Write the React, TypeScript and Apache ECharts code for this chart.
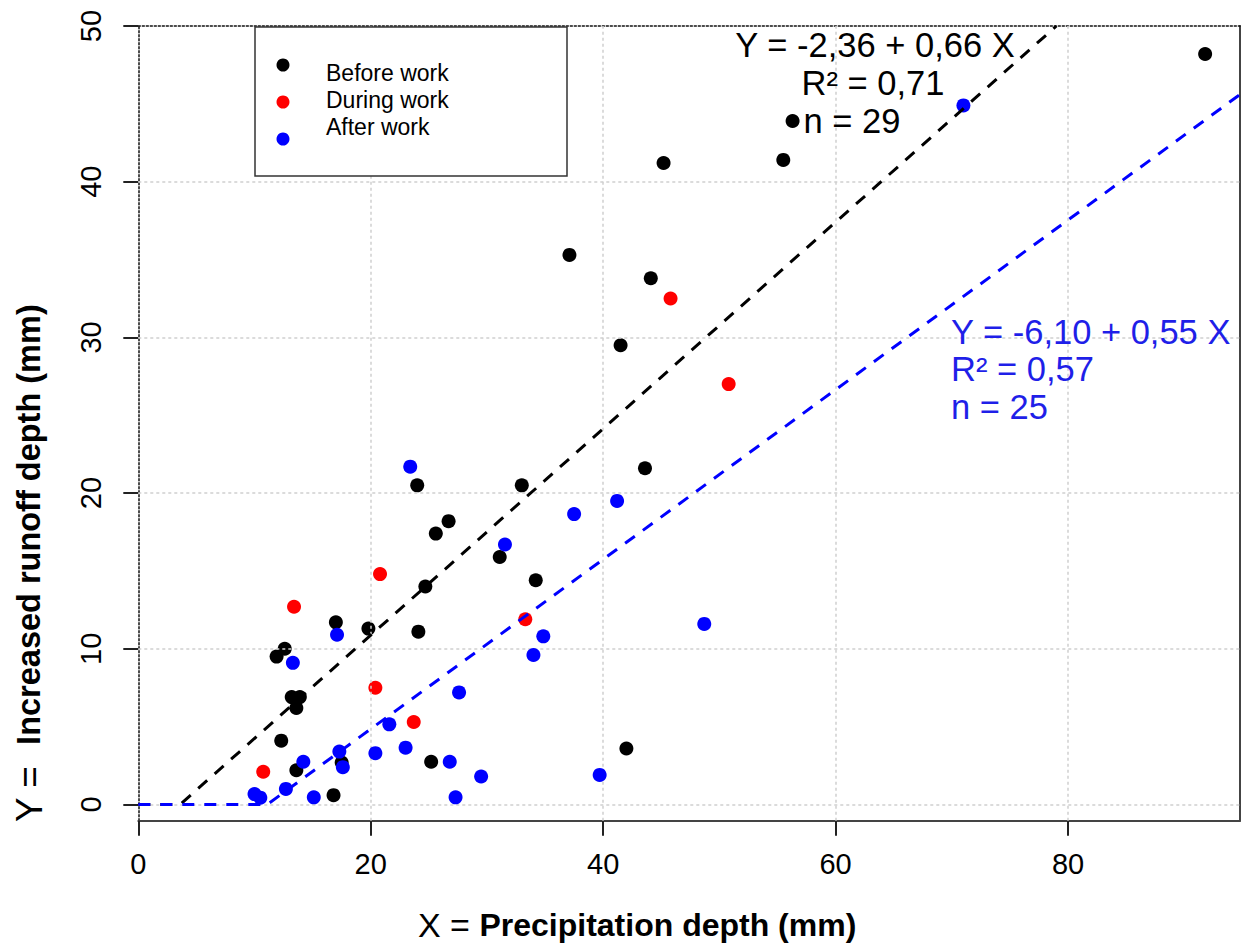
import React, { useEffect, useRef } from "react";
import * as echarts from "echarts";

// ---- data ----
const xTicks = [0, 20, 40, 60, 80];
const yTicks = [0, 10, 20, 30, 40, 50];
const xGridLines = [20, 40, 60, 80];
const yGridLines = [0, 10, 20, 30, 40];

const beforeWork: number[][] = [
  [91.8, 48.2], [56.3, 43.9], [55.5, 41.4], [45.2, 41.2], [37.1, 35.3],
  [44.1, 33.8], [41.5, 29.5], [43.6, 21.6], [33.0, 20.5], [24.0, 20.5],
  [26.7, 18.2], [25.6, 17.4], [31.1, 15.9], [34.2, 14.4], [24.7, 14.0],
  [17.0, 11.7], [19.8, 11.3], [24.1, 11.1], [12.6, 10.0], [11.9, 9.5],
  [13.2, 6.9], [13.9, 6.9], [13.6, 6.2], [12.3, 4.1], [13.6, 2.2],
  [16.8, 0.6], [17.5, 2.7], [25.2, 2.75], [42.0, 3.6],
];

const duringWork: number[][] = [
  [45.8, 32.5], [50.8, 27.0], [20.8, 14.8], [13.4, 12.7],
  [33.3, 11.9], [20.4, 7.5], [23.7, 5.3], [10.75, 2.1],
];

const afterWork: number[][] = [
  [71.0, 44.9], [23.4, 21.7], [37.5, 18.65], [41.2, 19.5], [31.55, 16.7],
  [34.85, 10.8], [48.7, 11.6], [34.0, 9.6], [13.3, 9.1], [17.1, 10.9],
  [27.6, 7.2], [21.6, 5.15], [17.3, 3.4], [17.6, 2.4], [20.4, 3.3],
  [23.0, 3.65], [14.2, 2.75], [26.8, 2.75], [29.5, 1.8], [12.7, 1.0],
  [10.0, 0.67], [10.5, 0.44], [15.1, 0.46], [27.3, 0.46], [39.7, 1.9],
];

// fitted lines (clipped at zero), endpoints
const fitBefore: number[][] = [[0, 0], [3.6, 0], [79.0, 50]];
const fitAfter: number[][] = [[0, 0], [11.1, 0], [94.8, 45.6]];

const eqBefore = ["Y = -2,36 + 0,66 X", "R² = 0,71", "n = 29"];
const eqAfter = ["Y = -6,10 + 0,55 X", "R² = 0,57", "n = 25"];
const legendNames = ["Before work", "During work", "After work"];
const colors = ["#000000", "#ff0000", "#0000ff"];

const FONT = "'Liberation Sans', Arial, sans-serif";
const X_MAX = 94.8;
const Y_MIN = -1.04;
const Y_MAX = 50;

export default function App() {
  const ref = useRef<HTMLDivElement>(null);

  useEffect(() => {
    if (!ref.current) return;
    const chart = echarts.init(ref.current, null, { renderer: "svg" });

    const gridLineStyle = { color: "#cfcfcf", width: 1.5, type: [3, 3] as any };

    const legendGraphics: any[] = [
      {
        type: "rect",
        z: 100,
        shape: { x: 255, y: 27, width: 312, height: 149 },
        style: { fill: "#ffffff", stroke: "#333333", lineWidth: 1.5 },
      },
    ];
    const symY = [65, 102, 139];
    const txtY = [73, 100, 127];
    legendNames.forEach((n, i) => {
      legendGraphics.push({
        type: "circle",
        z: 101,
        shape: { cx: 283, cy: symY[i], r: 6.5 },
        style: { fill: colors[i] },
      });
      legendGraphics.push({
        type: "text",
        z: 101,
        x: 326,
        y: txtY[i],
        style: {
          text: n,
          fill: "#000",
          font: `23px ${FONT}`,
          align: "left",
          verticalAlign: "middle",
        },
      });
    });

    const eqBeforeX = [875, 873, 852];
    const eqBeforeY = [45, 83, 121];
    const eqAfterY = [332, 369, 407];
    const eqGraphics: any[] = [];
    eqBefore.forEach((t, i) => {
      eqGraphics.push({
        type: "text",
        z: 50,
        x: eqBeforeX[i],
        y: eqBeforeY[i],
        style: {
          text: t,
          fill: "#000",
          font: `34.5px ${FONT}`,
          align: "center",
          verticalAlign: "middle",
        },
      });
    });
    eqAfter.forEach((t, i) => {
      eqGraphics.push({
        type: "text",
        z: 50,
        x: 951,
        y: eqAfterY[i],
        style: {
          text: t,
          fill: "#1f1fe8",
          font: `34.5px ${FONT}`,
          align: "left",
          verticalAlign: "middle",
        },
      });
    });

    const titleGraphics: any[] = [
      {
        type: "text",
        x: 418,
        y: 925,
        style: {
          text: "{a|X = }{b|Precipitation depth (mm)}",
          align: "left",
          verticalAlign: "middle",
          rich: {
            a: { fontSize: 34, fontFamily: FONT, fill: "#000" },
            b: { fontSize: 32, fontFamily: FONT, fontWeight: "bold", fill: "#000" },
          },
        },
      },
      {
        type: "text",
        x: 29,
        y: 822,
        rotation: Math.PI / 2,
        style: {
          text: "{a|Y =  }{b|Increased runoff depth (mm)}",
          align: "left",
          verticalAlign: "middle",
          rich: {
            a: { fontSize: 37, fontFamily: FONT, fill: "#000" },
            b: { fontSize: 32.5, fontFamily: FONT, fontWeight: "bold", fill: "#000" },
          },
        },
      },
    ];

    const scatterSeries = [beforeWork, duringWork, afterWork].map((d, i) => ({
      name: legendNames[i],
      type: "scatter",
      data: d,
      symbol: "circle",
      symbolSize: 14,
      itemStyle: { color: colors[i], opacity: 1 },
      z: 3 + i,
    }));

    chart.setOption({
      animation: false,
      backgroundColor: "#ffffff",
      grid: { left: 138.3, top: 26, width: 1101.7, height: 794.7, containLabel: false },
      xAxis: [
        {
          type: "value",
          min: 0,
          max: X_MAX,
          position: "bottom",
          axisLine: { show: true, onZero: false, lineStyle: { color: "#444", width: 2 } },
          axisTick: {
            show: true,
            inside: false,
            length: 15,
            customValues: xTicks,
            lineStyle: { color: "#222", width: 2 },
          },
          axisLabel: {
            show: true,
            customValues: xTicks,
            fontSize: 29,
            fontFamily: FONT,
            color: "#000",
            margin: 29,
          },
          splitLine: { show: false },
        },
        {
          type: "value",
          min: 0,
          max: X_MAX,
          position: "top",
          axisLine: { show: true, onZero: false, lineStyle: { color: "#111", width: 1.5, type: [2, 2] } },
          axisTick: { show: false },
          axisLabel: { show: false },
          splitLine: { show: false },
        },
      ],
      yAxis: [
        {
          type: "value",
          min: Y_MIN,
          max: Y_MAX,
          position: "left",
          axisLine: { show: true, onZero: false, lineStyle: { color: "#111", width: 1.5, type: [2, 2] } },
          axisTick: {
            show: true,
            inside: false,
            length: 15,
            customValues: yTicks,
            lineStyle: { color: "#222", width: 2 },
          },
          axisLabel: {
            show: true,
            customValues: yTicks,
            rotate: 90,
            fontSize: 29,
            fontFamily: FONT,
            color: "#000",
            margin: 33,
          },
          splitLine: { show: false },
        },
        {
          type: "value",
          min: Y_MIN,
          max: Y_MAX,
          position: "right",
          axisLine: { show: true, onZero: false, lineStyle: { color: "#444", width: 2 } },
          axisTick: { show: false },
          axisLabel: { show: false },
          splitLine: { show: false },
        },
      ],
      series: [
        {
          name: "grid",
          type: "scatter",
          data: [],
          z: 1,
          silent: true,
          markLine: {
            silent: true,
            symbol: ["none", "none"],
            label: { show: false },
            lineStyle: gridLineStyle,
            emphasis: { disabled: true },
            data: [
              ...xGridLines.map((v) => ({ xAxis: v })),
              ...yGridLines.map((v) => ({ yAxis: v })),
            ],
          },
        },
        ...scatterSeries,
        {
          name: "fit before",
          type: "line",
          data: fitBefore,
          symbol: "none",
          z: 10,
          lineStyle: { color: "#000", width: 3, type: [12, 10] },
        },
        {
          name: "fit after",
          type: "line",
          data: fitAfter,
          symbol: "none",
          z: 11,
          lineStyle: { color: "#0000ff", width: 3, type: [12, 10] },
        },
      ],
      graphic: [...legendGraphics, ...eqGraphics, ...titleGraphics],
    });

    return () => chart.dispose();
  }, []);

  return (
    <div
      ref={ref}
      style={{ position: "fixed", left: 0, top: 0, width: 1248, height: 944, background: "#fff" }}
    />
  );
}
